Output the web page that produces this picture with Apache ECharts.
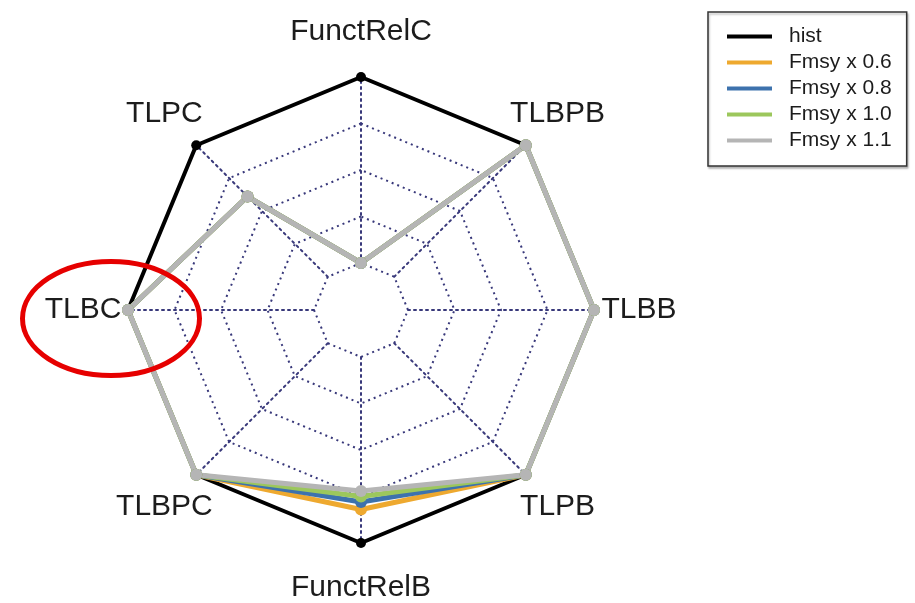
<!DOCTYPE html>
<html>
<head>
<meta charset="utf-8">
<script src="https://cdn.jsdelivr.net/npm/echarts@6/dist/echarts.min.js"></script>
<style>
  html, body { margin: 0; padding: 0; background: #fff; }
  #chart { width: 915px; height: 603px; }
</style>
</head>
<body>
<div id="chart"></div>
<script>
// Indicators in radar order (counter-clockwise starting at the top)
const indicators = ['FunctRelC', 'TLPC', 'TLBC', 'TLBPC', 'FunctRelB', 'TLPB', 'TLBB', 'TLBPB'];

// Normalised indicator values per scenario
const hist    = [1.00, 1.00, 1.00, 1.00, 1.00, 1.00, 1.00, 1.00];
const fmsy06  = [0.00, 0.61, 1.00, 1.00, 0.82, 1.00, 1.00, 1.00];
const fmsy08  = [0.00, 0.61, 1.00, 1.00, 0.78, 1.00, 1.00, 1.00];
const fmsy10  = [0.00, 0.61, 1.00, 1.00, 0.75, 1.00, 1.00, 1.00];
const fmsy11  = [0.00, 0.61, 1.00, 1.00, 0.72, 1.00, 1.00, 1.00];

const seriesNames  = ['hist', 'Fmsy x 0.6', 'Fmsy x 0.8', 'Fmsy x 1.0', 'Fmsy x 1.1'];
const seriesValues = [hist, fmsy06, fmsy08, fmsy10, fmsy11];
const seriesColors = ['#000000', '#eea92f', '#3d72ad', '#9cc75c', '#b5b5b5'];

const CX = 361, CY = 310, R0 = 47, R = 233, LABEL_R = 278;
const gridStyle = { color: '#38387a', width: 2, type: [2, 4] };
const FONT = "'Liberation Sans', Arial, Helvetica, sans-serif";

const chart = echarts.init(document.getElementById('chart'));

const labelGraphics = indicators.map(function (name, i) {
  const a = Math.PI / 2 + i * 2 * Math.PI / indicators.length;
  return {
    type: 'text',
    x: CX + LABEL_R * Math.cos(a),
    y: CY - LABEL_R * Math.sin(a),
    style: {
      text: name, fontSize: 30, fontFamily: FONT, fill: '#1c1c1c',
      align: 'center', verticalAlign: 'middle'
    }
  };
});

chart.setOption({
  animation: false,
  backgroundColor: '#ffffff',
  legend: {
    orient: 'vertical',
    left: 708, top: 12,
    padding: [14, 15, 15, 19],
    itemGap: 5,
    itemWidth: 45, itemHeight: 4,
    icon: 'rect',
    borderColor: '#333', borderWidth: 1.5,
    backgroundColor: '#fff',
    shadowColor: 'rgba(0,0,0,0.25)', shadowBlur: 2, shadowOffsetX: 1, shadowOffsetY: 2,
    textStyle: { fontSize: 21, fontFamily: FONT, color: '#1c1c1c', padding: [0, 0, 0, 12] },
    data: seriesNames
  },
  radar: {
    center: [CX, CY],
    radius: [R0, R],
    splitNumber: 4,
    shape: 'polygon',
    indicator: indicators.map(function (n) { return { name: n, min: 0, max: 1 }; }),
    axisName: { show: false },
    axisLine: { show: true, lineStyle: gridStyle },
    splitLine: { show: true, lineStyle: gridStyle },
    splitArea: { show: false },
    axisTick: { show: false },
    axisLabel: { show: false }
  },
  series: seriesNames.map(function (name, i) {
    const isHist = i === 0;
    return {
      type: 'radar',
      name: name,
      symbol: 'circle',
      symbolSize: isHist ? 10 : 12,
      lineStyle: { color: seriesColors[i], width: isHist ? 4 : 5 },
      itemStyle: { color: seriesColors[i], borderWidth: 0 },
      data: [{ name: name, value: seriesValues[i] }]
    };
  }),
  graphic: labelGraphics.concat([{
    type: 'ellipse',
    shape: { cx: 111, cy: 318.5, rx: 88.5, ry: 57 },
    style: { fill: 'none', stroke: '#e60000', lineWidth: 5 },
    z: 100
  }])
});
</script>
</body>
</html>
